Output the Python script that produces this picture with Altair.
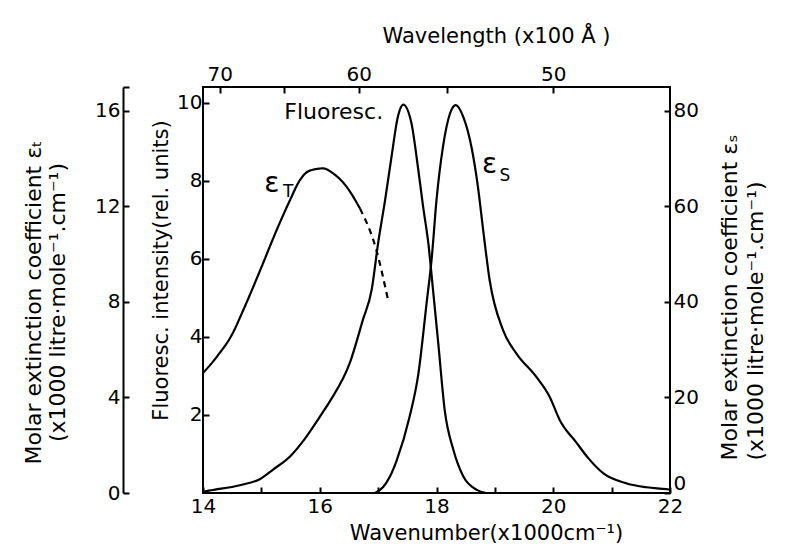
import altair as alt
import pandas as pd

# Fluorescence spectrum (rel. units) vs wavenumber (x1000 cm^-1)
fl_wn = [14.0, 14.1, 14.63, 14.98, 15.2, 15.5, 15.75, 16.0, 16.17, 16.52, 16.74, 16.89,
         17.00, 17.12, 17.23, 17.34, 17.43, 17.57, 17.68, 17.77, 17.86, 17.94, 18.03,
         18.14, 18.29, 18.46, 18.69, 18.85]
fl_val = [0.03, 0.06, 0.2, 0.36, 0.6, 0.95, 1.4, 1.95, 2.34, 3.35, 4.44, 5.21,
          6.40, 7.51, 8.62, 9.65, 9.95, 9.48, 8.37, 7.34, 6.40, 5.21, 3.84,
          2.13, 1.10, 0.42, 0.08, 0.0]

# Triplet extinction coefficient eps_T (solid part and dashed extrapolation)
et_wn_solid = [14.0, 14.25, 14.5, 14.69, 14.98, 15.26, 15.49, 15.66, 15.83, 16.06,
               16.23, 16.46, 16.69]
et_val_solid = [5.02, 5.75, 6.65, 7.66, 9.33, 11.0, 12.26, 13.1, 13.5, 13.59,
                13.38, 12.82, 11.91]
et_wn_dash = [16.69, 16.97, 17.17]
et_val_dash = [11.91, 10.17, 8.08]

# Singlet extinction coefficient eps_S
es_wn = [16.95, 17.09, 17.2, 17.32, 17.54, 17.69, 17.83, 17.92, 18.00, 18.11, 18.23,
         18.33, 18.46, 18.60, 18.71, 18.80, 18.91, 19.14, 19.37, 19.71, 19.94, 20.11,
         20.4, 20.6, 20.86, 21.26, 21.6, 21.94, 22.0]
es_val = [0.0, 1.3, 3.4, 6.9, 16.0, 25.0, 39.7, 49.4, 61.3, 72.4, 79.4,
          81.2, 78.7, 72.4, 64.1, 55.0, 44.6, 34.1, 29.2, 24.3, 20.1, 15.3,
          10.5, 7.3, 4.1, 2.0, 1.2, 0.8, 0.7]

# Axis tick values
x_ticks = [14, 15, 16, 17, 18, 19, 20, 21, 22]
wavelength_ticks = [70, 65, 60, 55, 50]   # x100 Angstrom
fl_ticks = [2, 4, 6, 8, 10]
et_ticks = [0, 4, 8, 12, 16]
es_ticks = [0, 20, 40, 60, 80]

# In-plot annotations (data coordinates on the fluorescence scale)
ann_text = ["Fluoresc.", "ε", "ε"]
ann_wn = [16.24, 15.18, 18.91]
ann_val = [9.77, 7.92, 8.41]
ann_size = [22, 28, 28]
sub_text = ["T", "S"]
sub_wn = [15.46, 19.17]
sub_val = [7.72, 8.12]

FONT = "DejaVu Sans"
W, H = 467, 406

df_fl = pd.DataFrame({"wn": fl_wn, "v": fl_val})
df_et = pd.DataFrame({
    "wn": et_wn_solid + et_wn_dash,
    "v": et_val_solid + et_val_dash,
    "part": ["solid"] * len(et_wn_solid) + ["dashed"] * len(et_wn_dash),
})
df_es = pd.DataFrame({"wn": es_wn, "v": es_val})
df_ann = pd.DataFrame({"wn": ann_wn, "v": ann_val, "t": ann_text, "s": ann_size})
df_sub = pd.DataFrame({"wn": sub_wn, "v": sub_val, "t": sub_text})

xs = alt.Scale(domain=[14, 22], nice=False, zero=False)
fl_scale = alt.Scale(domain=[0, 10.4], nice=False)
et_scale = alt.Scale(domain=[0, 17], nice=False)
es_scale = alt.Scale(domain=[0, 85], nice=False)

bottom_axis = alt.Axis(
    orient="bottom", values=x_ticks, offset=-6, tickSize=6, domain=False, grid=False,
    labelExpr="datum.value % 2 == 0 ? datum.label : ''", labelFlush=False,
    labelOverlap=False, labelPadding=3,
    title="Wavenumber(x1000cm⁻¹)", titleX=283, titlePadding=6,
)
top_axis = alt.Axis(
    orient="top", values=[1000.0 / w for w in wavelength_ticks], offset=-6, tickSize=6,
    domain=False, grid=False,
    labelExpr="round(1000/datum.value) % 10 == 0 ? '' + round(1000/datum.value) : ''",
    labelFlush=False, labelOverlap=False, labelPadding=3,
    title="Wavelength (x100 Å )", titleX=293, titlePadding=18,
)
fl_axis = alt.Axis(
    orient="left", values=fl_ticks, offset=-6, tickSize=6, domain=False, grid=False,
    labelPadding=1, title="Fluoresc. intensity(rel. units)", titleY=183,
    titlePadding=5, titleFontSize=21,
)
et_axis_a = alt.Axis(
    orient="left", values=et_ticks, offset=80, ticks=False, domain=True, grid=False,
    labelPadding=3,
    title=["Molar extinction coefficient εₜ", "(x1000 litre·mole⁻¹.cm⁻¹)"],
    titleY=215, titlePadding=25, titleLineHeight=24, titleFontSize=22,
)
et_axis_b = alt.Axis(
    orient="left", values=et_ticks + [17], offset=74, tickSize=6, domain=False,
    labels=False, grid=False, title=None,
)
es_axis = alt.Axis(
    orient="right", values=es_ticks, offset=-6, tickSize=6, domain=False, grid=False,
    labelPadding=3, labelFlush=True,
    title=["Molar extinction coefficient εₛ", "(x1000 litre·mole⁻¹.cm⁻¹)"],
    titleAngle=-90, titlePadding=17, titleLineHeight=26, titleFontSize=22,
    titleAlign="left", titleY=373,
)

line_kw = dict(color="black", strokeWidth=2.2, interpolate="monotone")

fl_layer = alt.Chart(df_fl).mark_line(**line_kw).encode(
    x=alt.X("wn:Q", scale=xs, axis=bottom_axis),
    y=alt.Y("v:Q", scale=fl_scale, axis=fl_axis),
)
et_layer = alt.Chart(df_et).mark_line(**line_kw).encode(
    x=alt.X("wn:Q", scale=xs, axis=None),
    y=alt.Y("v:Q", scale=et_scale, axis=et_axis_a),
    detail="part:N",
    strokeDash=alt.StrokeDash("part:N", scale=alt.Scale(domain=["solid", "dashed"],
                                                       range=[[1, 0], [6, 5]]),
                              legend=None),
)
et_ticks_layer = alt.Chart(df_et).mark_point(opacity=0).encode(
    x=alt.X("wn:Q", scale=xs, axis=None),
    y=alt.Y("v:Q", scale=et_scale, axis=et_axis_b),
)
es_layer = alt.Chart(df_es).mark_line(**line_kw).encode(
    x=alt.X("wn:Q", scale=xs, axis=top_axis),
    y=alt.Y("v:Q", scale=es_scale, axis=es_axis),
)
ann_layer = alt.Chart(df_ann).mark_text(font=FONT, color="black").encode(
    x=alt.X("wn:Q", scale=xs, axis=None),
    y=alt.Y("v:Q", scale=fl_scale, axis=None),
    text="t:N",
    size=alt.Size("s:Q", scale=None, legend=None),
)
sub_layer = alt.Chart(df_sub).mark_text(font=FONT, color="black", fontSize=17).encode(
    x=alt.X("wn:Q", scale=xs, axis=None),
    y=alt.Y("v:Q", scale=fl_scale, axis=None),
    text="t:N",
)

chart = (
    alt.layer(fl_layer, et_layer, et_ticks_layer, es_layer, ann_layer, sub_layer)
    .resolve_scale(y="independent")
    .resolve_axis(x="independent", y="independent")
    .properties(
        width=W, height=H,
        autosize=alt.AutoSizeParams(type="none"),
        padding={"left": 195, "top": 79, "right": 108, "bottom": 52},
        background="white",
    )
    .configure_view(stroke="black", strokeWidth=2)
    .configure_axis(
        labelFont=FONT, labelFontSize=20, labelColor="black",
        titleFont=FONT, titleFontSize=21, titleFontWeight="normal", titleColor="black",
        tickColor="black", tickWidth=2, domainColor="black", domainWidth=2,
    )
)

chart.save("out.html", embed_options={"renderer": "svg", "actions": False})
